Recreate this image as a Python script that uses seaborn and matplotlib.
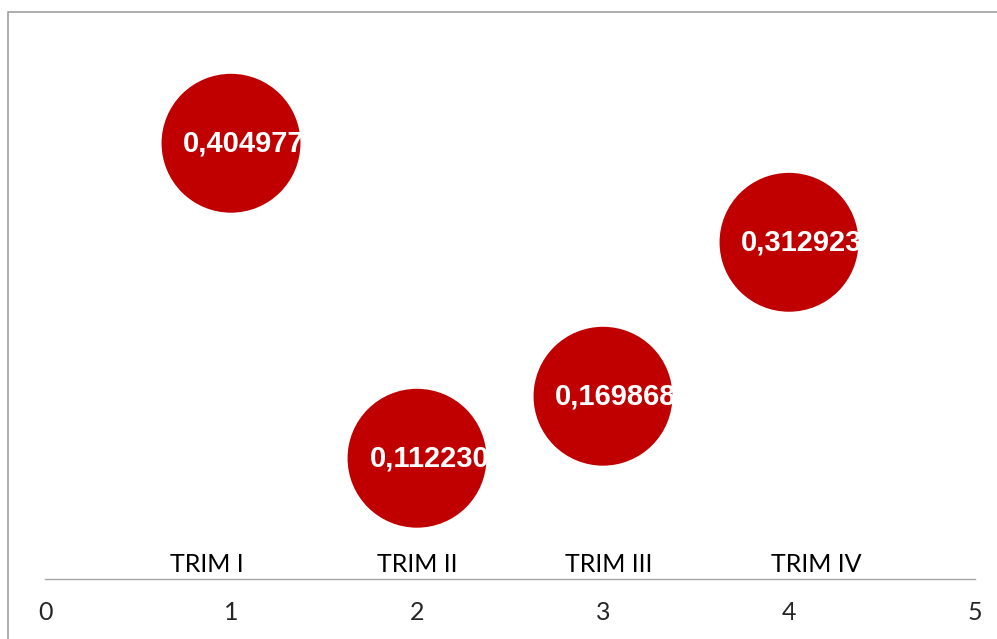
import matplotlib
matplotlib.use("Agg")
import matplotlib.pyplot as plt
import seaborn as sns
import pandas as pd

# données
trimestres = ["TRIM I", "TRIM II", "TRIM III", "TRIM IV"]
x_vals = [1, 2, 3, 4]
valeurs = [0.404977, 0.112230, 0.169868, 0.312923]
libelles = ["0,404977", "0,112230", "0,169868", "0,312923"]
x_ticks = [0, 1, 2, 3, 4, 5]
# décalage des étiquettes de catégorie (comme placées dans le fichier d'origine)
decal_libelle = [-0.13, 0.0, 0.03, 0.145]

rouge = "#C00000"

sns.set_theme(style="white")
plt.rcParams['font.family'] = ['Lato', 'DejaVu Sans']

df = pd.DataFrame({"x": x_vals, "y": valeurs, "trim": trimestres})

fig = plt.figure(figsize=(9.97, 6.39), dpi=100)
ax = fig.add_axes([45 / 997, 1 - 579 / 639, 930 / 997, 538 / 639])

sns.scatterplot(data=df, x="x", y="y", s=10000, color=rouge, edgecolor="none",
                ax=ax, legend=False, clip_on=False, zorder=3)

for xv, yv, lab in zip(x_vals, valeurs, libelles):
    ax.annotate(lab, (xv, yv), xytext=(9, 0), textcoords="offset points",
                ha="center", va="center", color="white", fontsize=21,
                fontweight="bold", family=["Liberation Sans", "DejaVu Sans"], zorder=4)

for xv, d, t in zip(x_vals, decal_libelle, trimestres):
    ax.annotate(t, (xv + d, 0), xytext=(0, 2), textcoords="offset points",
                ha="center", va="bottom", fontsize=18, color="black")

ax.set_xlim(0, 5)
ax.set_ylim(0, 0.5)
ax.set_xticks(x_ticks)
ax.set_xticklabels([str(v) for v in x_ticks], fontsize=18)
ax.tick_params(axis="x", length=0, pad=16)
ax.set_yticks([])
ax.set_xlabel("")
ax.set_ylabel("")
for s in ["top", "right", "left"]:
    ax.spines[s].set_visible(False)
ax.spines["bottom"].set_color("#A6A6A6")
ax.spines["bottom"].set_linewidth(1.0)

# cadre du graphique
cadre = plt.Rectangle((8 / 997, -0.05), 1.05, 1 - 12 / 639 + 0.05, transform=fig.transFigure,
                      fill=False, edgecolor="#A0A0A0", linewidth=1.2)
fig.patches.append(cadre)

plt.savefig("out.png", dpi=100)
